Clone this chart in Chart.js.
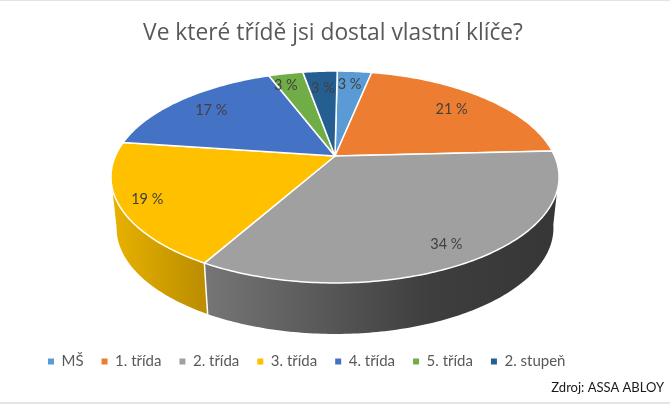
<!DOCTYPE html>
<html lang="cs">
<head>
    <meta charset="UTF-8">
    <title>Ve které třídě jsi dostal vlastní klíče?</title>
    <script src="https://cdn.jsdelivr.net/npm/chart.js"></script>
    <style>
        body { margin: 0; background: #fff; }
        canvas { display: block; }
    </style>
</head>
<body>
    <canvas id="chart" width="670" height="404"></canvas>
    <script>
        const titleText = 'Ve které třídě jsi dostal vlastní klíče?';
        const sourceText = 'Zdroj: ASSA ABLOY';
        const categories = ['MŠ', '1. třída', '2. třída', '3. třída', '4. třída', '5. třída', '2. stupeň'];
        const values = [3, 21, 34, 19, 17, 3, 3];
        const colors = ['#5B9BD5', '#ED7D31', '#A0A0A0', '#FFC000', '#4472C4', '#70AD47', '#255E91'];

        // how far out each percentage sits on its slice, and a small turn in degrees
        const labelRadius = [0.82, 0.77, 0.86, 0.88, 0.79, 0.84, 0.77];
        const labelTurn = [-0.7, 0, 1.5, 0, 0, -2.5, 0];

        // perspective of the tilted disc, fitted to the picture
        const cx = 335, cy = 156;
        const persp = -0.198, sx = 219.6, sy = 101.8;
        const depth = 51, bottomScale = 0.975;
        // side wall is only visible between these angles (radians, chart.js arc angles)
        const wallFrom = 0.17, wallTo = 2.95;
        const wallGradients = {
            2: [[203, '#767676'], [430, '#3E3E3E'], [558, '#363636']],
            3: [[111, '#E9B200'], [203, '#BC8E00']]
        };

        function project(angle, r) {
            const ux = Math.cos(angle) * r, uy = Math.sin(angle) * r;
            const d = 1 + persp * uy;
            return { x: cx + sx * ux / d, y: cy + sy * uy / d };
        }

        function bottom(p) {
            return { x: cx + (p.x - cx) * bottomScale, y: p.y + depth };
        }

        function arcPoints(from, to) {
            const pts = [];
            const n = Math.max(2, Math.ceil((to - from) / 0.015));
            for (let i = 0; i <= n; i++) pts.push(project(from + (to - from) * i / n, 1));
            return pts;
        }

        function tracePath(ctx, pts) {
            ctx.beginPath();
            pts.forEach((p, i) => i ? ctx.lineTo(p.x, p.y) : ctx.moveTo(p.x, p.y));
            ctx.closePath();
        }

        const pie3d = {
            id: 'pie3d',
            beforeDatasetsDraw(chart) {
                const ctx = chart.ctx;
                const arcs = chart.getDatasetMeta(0).data;
                ctx.save();
                ctx.lineJoin = 'round';

                // side wall first, the top face covers its upper edge
                arcs.forEach((arc, i) => {
                    if (!wallGradients[i]) return;
                    const from = Math.max(arc.startAngle, wallFrom);
                    const to = Math.min(arc.endAngle, wallTo);
                    const top = arcPoints(from, to);
                    const stops = wallGradients[i];
                    const x0 = stops[0][0], x1 = stops[stops.length - 1][0];
                    const grad = ctx.createLinearGradient(x0, 0, x1, 0);
                    stops.forEach(s => grad.addColorStop((s[0] - x0) / (x1 - x0), s[1]));
                    tracePath(ctx, top.concat(top.map(bottom).reverse()));
                    ctx.fillStyle = grad;
                    ctx.fill();
                });

                // white seam between the two wall colours
                const seam = project(arcs[2].endAngle, 1);
                const seamEnd = bottom(seam);
                ctx.strokeStyle = '#fff';
                ctx.lineWidth = 1.5;
                ctx.beginPath();
                ctx.moveTo(seam.x, seam.y);
                ctx.lineTo(seamEnd.x, seamEnd.y);
                ctx.stroke();

                // top face
                arcs.forEach((arc, i) => {
                    tracePath(ctx, [{ x: cx, y: cy }].concat(arcPoints(arc.startAngle, arc.endAngle)));
                    ctx.fillStyle = colors[i];
                    ctx.fill();
                    ctx.strokeStyle = '#fff';
                    ctx.lineWidth = 1.5;
                    ctx.stroke();
                });

                // percentages
                ctx.font = '14.5px Lato';
                ctx.fillStyle = '#404040';
                ctx.textAlign = 'center';
                ctx.textBaseline = 'middle';
                arcs.forEach((arc, i) => {
                    const mid = (arc.startAngle + arc.endAngle) / 2 + labelTurn[i] * Math.PI / 180;
                    const p = project(mid, labelRadius[i]);
                    ctx.fillText(values[i] + ' %', p.x, p.y);
                });
                ctx.restore();
                return false;
            },
            afterDraw(chart) {
                const ctx = chart.ctx;
                ctx.save();
                // thin frame lines of the screenshot
                ctx.fillStyle = '#E4E4E4';
                ctx.fillRect(0, 0, 670, 1);
                ctx.fillRect(0, 402, 670, 2);
                ctx.font = '13px Lato';
                ctx.fillStyle = '#1A1A1A';
                ctx.textAlign = 'right';
                ctx.textBaseline = 'middle';
                ctx.fillText(sourceText, 664, 388);
                ctx.restore();
            }
        };

        new Chart(document.getElementById('chart'), {
            type: 'pie',
            data: {
                labels: categories,
                datasets: [{ data: values, backgroundColor: colors, borderWidth: 0 }]
            },
            plugins: [pie3d],
            options: {
                responsive: false,
                animation: false,
                rotation: 0.7,
                layout: { padding: { top: 9, bottom: 25, left: 30, right: 34 } },
                plugins: {
                    tooltip: { enabled: false },
                    title: {
                        display: true,
                        text: titleText,
                        color: '#595959',
                        font: { family: '"Open Sans"', size: 22.8, weight: 'normal' },
                        padding: { top: 11, bottom: 10 }
                    },
                    legend: {
                        position: 'bottom',
                        align: 'start',
                        labels: {
                            usePointStyle: true,
                            pointStyle: 'rect',
                            boxWidth: 6,
                            boxHeight: 6,
                            padding: 18,
                            color: '#595959',
                            font: { family: 'Lato', size: 15 }
                        }
                    }
                }
            }
        });
    </script>
</body>
</html>
